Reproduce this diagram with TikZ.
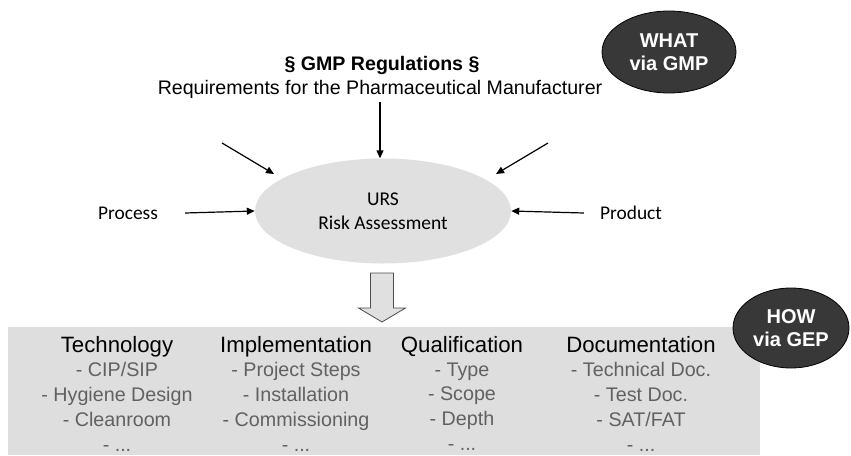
\documentclass[tikz,border=0pt]{standalone}
\usepackage{fontspec}
\setmainfont{Liberation Sans}
\newfontfamily\calibri{Carlito}
\usetikzlibrary{shapes.geometric,arrows.meta}
\begin{document}
\begin{tikzpicture}[x=1pt, y=-1pt, every node/.style={inner sep=0pt},
  badge/.style={ellipse, draw=black, thick, fill=black!78, text=white, align=center, font=\bfseries\fontsize{20}{23}\selectfont},
  hdr/.style={font=\fontsize{22.2}{25}\selectfont, anchor=base},
  items/.style={font=\fontsize{19.7}{24.7}\selectfont, text=black!62, align=center, anchor=north},
  side/.style={font=\calibri\fontsize{19.4}{24}\selectfont},
  edge/.style={-{Triangle[length=8pt,width=7pt]}, line width=1.2pt}]
  \useasboundingbox (0,0) rectangle (851,455);
  % regulations on top
  \node[anchor=base, font=\bfseries\fontsize{19.6}{23}\selectfont] (gmp) at (382,70) {§ GMP Regulations §};
  \node[anchor=base, font=\fontsize{19.6}{23}\selectfont] (req) at (380,94) {Requirements for the Pharmaceutical Manufacturer};
  \node[badge, minimum width=134pt, minimum height=82pt] (what) at (669,52) {WHAT\\via GMP};
  % risk assessment
  \node[ellipse, fill=black!12, align=center, minimum width=256pt, minimum height=105pt, font=\calibri\fontsize{19.5}{24}\selectfont] (urs) at (383,211) {URS\\Risk Assessment};
  \node[side] (process) at (128,213) {Process};
  \node[side] (product) at (631,213) {Product};
  \coordinate (top) at (380,102);
  \coordinate (nw) at (222,143);
  \coordinate (nwtip) at (274,174);
  \coordinate (ne) at (548,143);
  \coordinate (netip) at (496,174);
  \draw[edge] (top) -- (urs.north -| top);
  \draw[edge] (nw) -- (nwtip);
  \draw[edge] (ne) -- (netip);
  \draw[edge] ([xshift=27pt]process.east) -- (urs.west);
  \draw[edge] ([xshift=-16pt]product.west) -- (urs.east);
  % block arrow down to the GEP panel
  \draw[black!70, fill=black!12, line width=0.8pt] (370.5,273) -- (393.5,273) -- (393.5,308) -- (405.5,308) -- (382,322) -- (358.5,308) -- (370.5,308) -- cycle;
  \fill[black!13] (8,327) rectangle (760,455);
  \node[badge, minimum width=116pt, minimum height=80pt] (how) at (791,328) {HOW\\via GEP};
  \node[hdr] (tech) at (117,352) {Technology};
  \node[hdr] (impl) at (296,352) {Implementation};
  \node[hdr] (qual) at (462,352) {Qualification};
  \node[hdr] (doc) at (641,352) {Documentation};
  \node[items] (techl) at (117,362.5) {- CIP/SIP\\- Hygiene Design\\- Cleanroom\\- ...};
  \node[items] (impll) at (296,362.5) {- Project Steps\\- Installation\\- Commissioning\\- ...};
  \node[items] (quall) at (462,362.5) {- Type\\- Scope\\- Depth\\- ...};
  \node[items] (docl) at (641,362.5) {- Technical Doc.\\- Test Doc.\\- SAT/FAT\\- ...};
\end{tikzpicture}
\end{document}
